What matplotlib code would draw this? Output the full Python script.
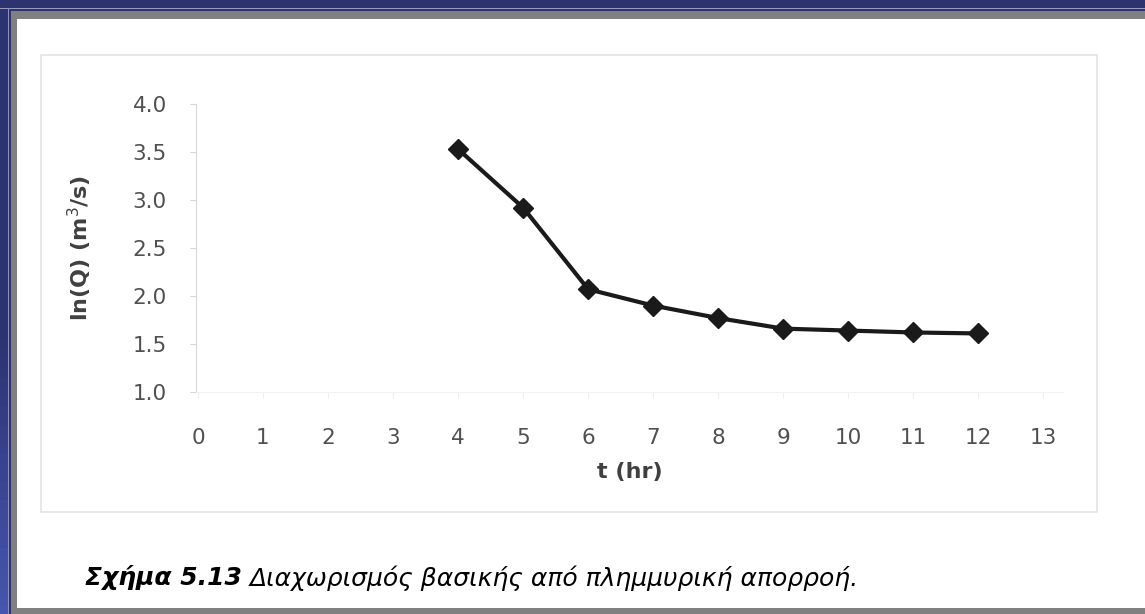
import matplotlib
matplotlib.use('Agg')
import matplotlib.pyplot as plt
import numpy as np
from matplotlib.patches import Rectangle
from matplotlib.colors import to_rgb

# data
t_hr = [4, 5, 6, 7, 8, 9, 10, 11, 12]
lnQ = [3.53, 2.92, 2.07, 1.90, 1.77, 1.66, 1.64, 1.62, 1.61]
x_ticks = list(range(0, 14))
y_ticks = [1.0, 1.5, 2.0, 2.5, 3.0, 3.5, 4.0]
caption_bold = 'Σχήμα 5.13'
caption_rest = 'Διαχωρισμός βασικής από πλημμυρική απορροή.'

W, H = 1145, 614
fig = plt.figure(figsize=(W / 100, H / 100), dpi=100)
fig.patch.set_facecolor('white')

def px_rect(x0, y0, x1, y1, color, z=0):
    # rectangle given in pixel coords (origin top-left)
    fig.patches.append(Rectangle((x0 / W, 1 - y1 / H), (x1 - x0) / W, (y1 - y0) / H,
                                 transform=fig.transFigure, facecolor=color,
                                 edgecolor='none', zorder=z))

# slide frame: navy border, thin light line, gray band
navy = '#2d3270'
px_rect(0, 0, W, 8, navy)
px_rect(0, 0, 8, H, navy)
# left band gets brighter toward the bottom
c0, c1 = np.array(to_rgb(navy)), np.array(to_rgb('#4555b0'))
for i in range(30):
    y0 = 330 + i * (H - 330) / 30
    px_rect(0, y0, 8, y0 + (H - 330) / 30 + 1, tuple(c0 + (c1 - c0) * i / 29))
px_rect(0, 8, W, 9, '#9a9ab8')
px_rect(8, 8, 9, H, '#8c90c0')
px_rect(9, 9, W, 11, navy)
px_rect(9, 9, 11, H, navy)
px_rect(11, 11, W, 19, '#808080')
px_rect(11, 11, 17, H, '#808080')
px_rect(17, 608, W, H, '#808080')

# faint chart frame
fig.patches.append(Rectangle((41 / W, 1 - 512 / H), (1097 - 41) / W, (512 - 55) / H,
                             transform=fig.transFigure, facecolor='none',
                             edgecolor='#e4e4e4', linewidth=1.2))

ax = fig.add_axes([196 / W, 1 - 392 / H, (1063 - 196) / W, (392 - 104) / H])
ax.set_facecolor('none')
ax.plot(t_hr, lnQ, color='#1a1a1a', linewidth=3, marker='D', markersize=10,
        markerfacecolor='#1a1a1a', markeredgecolor='#1a1a1a')

ax.set_xlim(-0.03, 13.3)
ax.set_ylim(1.0, 4.0)
ax.set_xticks(x_ticks)
ax.set_yticks(y_ticks)
ax.set_yticklabels([f'{v:.1f}' for v in y_ticks])

for s in ['top', 'right']:
    ax.spines[s].set_visible(False)
ax.spines['left'].set_color('#d8d8d8')
ax.spines['bottom'].set_color('#f0f0f0')
ax.tick_params(axis='y', colors='#d8d8d8', labelcolor='#505050', length=4,
               labelsize=15.5, pad=17)
ax.tick_params(axis='x', colors='#eeeeee', labelcolor='#505050', length=4,
               labelsize=15.5, pad=22)

ax.set_xlabel('t (hr)', fontsize=16, fontweight='bold', color='#404040', labelpad=10)
ax.set_ylabel('ln(Q) (m$^3$/s)', fontsize=16, fontweight='bold', color='#404040',
              labelpad=28)

# caption: bold part then regular part
cap_y = 1 - 578 / H
x0 = 85
fs = 18
t1 = fig.text(x0 / W, cap_y, caption_bold, fontsize=fs, fontweight='bold',
              fontstyle='italic', family='DejaVu Sans', color='black', va='center')
t2 = fig.text(0, cap_y, caption_rest, fontsize=fs, fontstyle='italic',
              family='DejaVu Sans', color='black', va='center')
r = fig.canvas.get_renderer()
w1 = t1.get_window_extent(r).width
t2.set_x((x0 + w1 + 8) / W)

fig.savefig('out.png', dpi=100)
